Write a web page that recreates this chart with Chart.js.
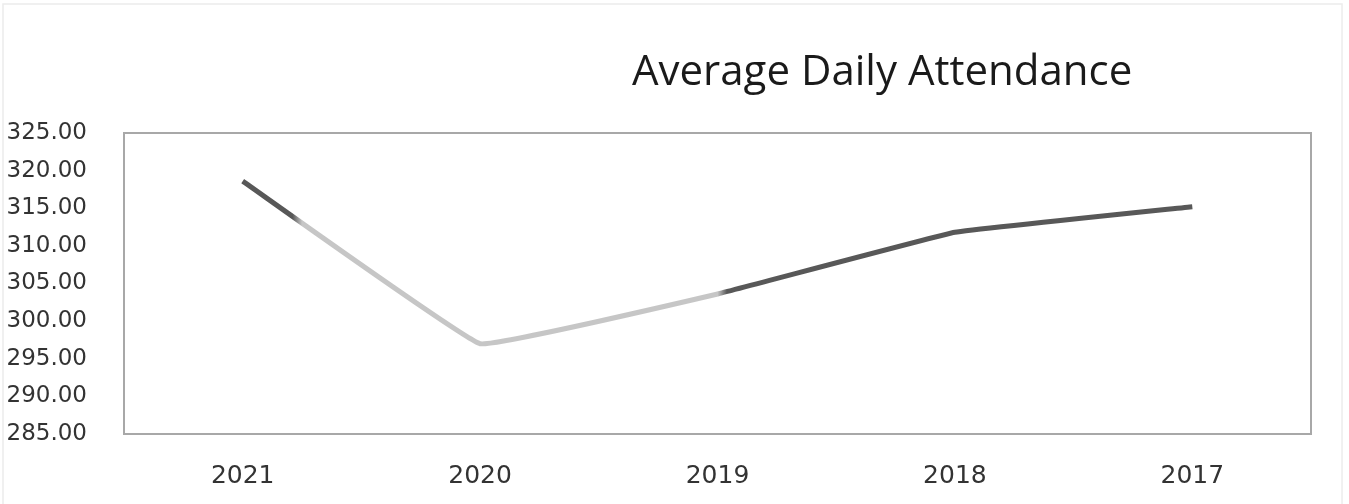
<!DOCTYPE html>
<html>
<head>
<meta charset="utf-8">
<script src="https://cdn.jsdelivr.net/npm/chart.js@4.4.0/dist/chart.umd.min.js"></script>
<style>
  html, body { margin: 0; padding: 0; background: #fff; }
  #wrap { width: 1349px; height: 504px; position: relative; }
</style>
</head>
<body>
<div id="wrap"><canvas id="attendance"></canvas></div>
<script>
// data
var years = ['2021', '2020', '2019', '2018', '2017'];
var attendance = [318.6, 297.0, 303.6, 311.8, 315.2];
var yTicks = [285, 290, 295, 300, 305, 310, 315, 320, 325];
var chartTitle = 'Average Daily Attendance';

var darkLine = '#585858';
var lightLine = '#c6c6c6';

// line is dark, goes light gray part way into the 2021-2020 drop and back to dark at 2019
function lineColour(context) {
    var chart = context.chart;
    var area = chart.chartArea;
    if (!area) return darkLine;
    var x = chart.scales.x;
    var p0 = x.getPixelForValue(0);
    var p1 = x.getPixelForValue(1);
    var p2 = x.getPixelForValue(2);
    var w = area.right - area.left;
    var a = (p0 + (p1 - p0) * 0.21 - area.left) / w;
    var b = (p2 - area.left) / w;
    var g = chart.ctx.createLinearGradient(area.left, 0, area.right, 0);
    g.addColorStop(0, darkLine);
    g.addColorStop(a, darkLine);
    g.addColorStop(Math.min(a + 0.008, 1), lightLine);
    g.addColorStop(b, lightLine);
    g.addColorStop(Math.min(b + 0.008, 1), darkLine);
    g.addColorStop(1, darkLine);
    return g;
}

var frame = {
    id: 'frame',
    beforeDraw: function(chart) {
        var ctx = chart.ctx;
        ctx.save();
        ctx.strokeStyle = '#ececec';
        ctx.lineWidth = 1.5;
        ctx.strokeRect(3, 4, 1339, 520);
        ctx.restore();
    },
    afterDatasetsDraw: function(chart) {
        var ctx = chart.ctx;
        var a = chart.chartArea;
        ctx.save();
        ctx.strokeStyle = '#a8a8a8';
        ctx.lineWidth = 2;
        ctx.strokeRect(a.left, a.top, a.right - a.left, a.bottom - a.top);
        // title sits right of centre in the original
        ctx.fillStyle = '#1a1a1a';
        ctx.font = '42px "Open Sans"';
        ctx.textAlign = 'left';
        ctx.textBaseline = 'alphabetic';
        ctx.fillText(chartTitle, 632, 85);
        ctx.restore();
    }
};

var ctx = document.getElementById('attendance');
var attendanceChart = new Chart(ctx, {
    type: 'line',
    data: {
        labels: years,
        datasets: [{
            label: chartTitle,
            data: attendance,
            borderColor: lineColour,
            borderWidth: 5,
            pointRadius: 0,
            tension: 0.06,
            fill: false
        }]
    },
    options: {
        responsive: true,
        maintainAspectRatio: false,
        animation: false,
        layout: {
            padding: { top: 133, right: 38, bottom: 0, left: 0 }
        },
        plugins: {
            legend: { display: false },
            title: { display: false },
            tooltip: { enabled: false }
        },
        scales: {
            x: {
                offset: true,
                grid: { display: false },
                border: { display: false },
                ticks: {
                    color: '#333',
                    padding: 19,
                    font: { family: 'DejaVu Sans', size: 25 }
                },
                afterFit: function(scale) { scale.height = 70; }
            },
            y: {
                min: 285,
                max: 325,
                grid: { display: false },
                border: { display: false },
                afterBuildTicks: function(scale) {
                    scale.ticks = yTicks.map(function(v) { return { value: v }; });
                },
                ticks: {
                    color: '#333',
                    padding: 29,
                    font: { family: 'DejaVu Sans', size: 23 },
                    callback: function(v) { return Number(v).toFixed(2); }
                },
                afterFit: function(scale) { scale.width = 124; }
            }
        }
    },
    plugins: [frame]
});
</script>
</body>
</html>
